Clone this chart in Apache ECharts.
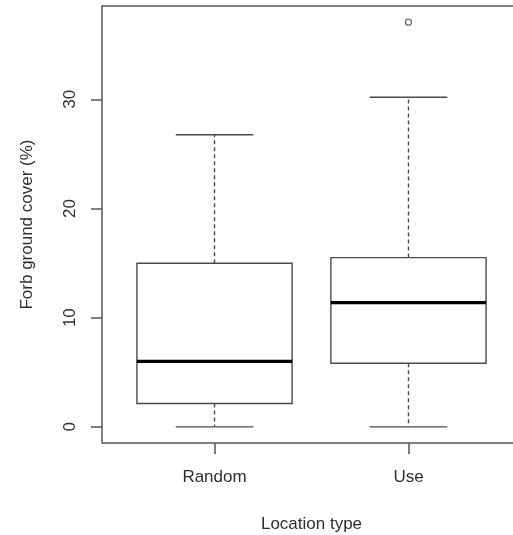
<!DOCTYPE html>
<html><head><meta charset="utf-8">
<script src="https://cdn.jsdelivr.net/npm/echarts@6/dist/echarts.min.js"></script>
<style>html,body{margin:0;padding:0;background:#fff}#c{width:513px;height:535px}</style>
</head><body><div id="c"></div>
<script>
// Data
const categories = ['Random', 'Use'];
const minVals    = [0, 0];
const q1Vals     = [2.14, 5.83];
const medianVals = [5.99, 11.38];
const q3Vals     = [14.98, 15.5];
const maxVals    = [26.75, 30.18];
const outliers   = [[2, 37.06]];
const yTicks     = [0, 10, 20, 30];
const xPositions = [1, 2];

const boxData = categories.map((c, i) => [xPositions[i], minVals[i], q1Vals[i], medianVals[i], q3Vals[i], maxVals[i]]);

const lineCol = '#4a4a4a';
const textCol = '#2e2e2e';
const font = 'Liberation Sans, Arial, sans-serif';

const chart = echarts.init(document.getElementById('c'), null, {renderer: 'canvas'});
chart.setOption({
  backgroundColor: '#fff',
  animation: false,
  grid: {left: 102, top: 6, width: 419, height: 437, outerBoundsMode: 'none', containLabel: false,
    show: true, borderColor: '#555', borderWidth: 1.5, backgroundColor: 'transparent'},
  xAxis: {
    type: 'value', min: 0.42, max: 2.58,
    name: 'Location type', nameLocation: 'middle', nameGap: 73,
    nameTextStyle: {fontFamily: font, fontSize: 17, color: textCol},
    axisLine: {show: false, onZero: false},
    splitLine: {show: false},
    axisTick: {show: true, customValues: xPositions, length: 11, lineStyle: {color: '#555', width: 1.5}},
    axisLabel: {customValues: xPositions, margin: 26, fontFamily: font, fontSize: 17, color: textCol,
      formatter: v => categories[Math.round(v) - 1] || ''}
  },
  yAxis: {
    type: 'value', min: -1.48, max: 38.54,
    name: 'Forb ground cover (%)', nameLocation: 'middle', nameGap: 66, nameRotate: 90,
    nameTextStyle: {fontFamily: font, fontSize: 17, color: textCol},
    axisLine: {show: false, onZero: false},
    splitLine: {show: false},
    axisTick: {show: true, customValues: yTicks, length: 11, lineStyle: {color: '#555', width: 1.5}},
    axisLabel: {customValues: yTicks, rotate: 90, margin: 23, fontFamily: font, fontSize: 17, color: textCol}
  },
  series: [
    {
      type: 'custom',
      data: boxData,
      encode: {x: 0, y: [1, 2, 3, 4, 5]},
      renderItem: function (params, api) {
        const x = api.value(0);
        const pMin = api.coord([x, api.value(1)]);
        const pQ1 = api.coord([x, api.value(2)]);
        const pMed = api.coord([x, api.value(3)]);
        const pQ3 = api.coord([x, api.value(4)]);
        const pMax = api.coord([x, api.value(5)]);
        const unit = api.size([1, 0])[0];
        const hw = unit * 0.4;
        const cw = hw / 2;
        const cx = pMed[0];
        const st = {stroke: lineCol, lineWidth: 1.4, fill: null};
        const dash = {stroke: lineCol, lineWidth: 1.4, lineDash: [4, 3]};
        return {
          type: 'group',
          children: [
            {type: 'line', shape: {x1: cx, y1: pQ3[1], x2: cx, y2: pMax[1]}, style: dash},
            {type: 'line', shape: {x1: cx, y1: pQ1[1], x2: cx, y2: pMin[1]}, style: dash},
            {type: 'line', shape: {x1: cx - cw, y1: pMax[1], x2: cx + cw, y2: pMax[1]}, style: st},
            {type: 'line', shape: {x1: cx - cw, y1: pMin[1], x2: cx + cw, y2: pMin[1]}, style: st},
            {type: 'rect', shape: {x: cx - hw, y: pQ3[1], width: hw * 2, height: pQ1[1] - pQ3[1]}, style: {stroke: lineCol, lineWidth: 1.4, fill: '#fff'}},
            {type: 'line', shape: {x1: cx - hw, y1: pMed[1], x2: cx + hw, y2: pMed[1]}, style: {stroke: '#000', lineWidth: 3.2}}
          ]
        };
      }
    },
    {
      type: 'scatter',
      data: outliers,
      symbol: 'circle',
      symbolSize: 6,
      itemStyle: {color: '#fff', borderColor: lineCol, borderWidth: 1.3}
    }
  ]
});
</script>
</body></html>
